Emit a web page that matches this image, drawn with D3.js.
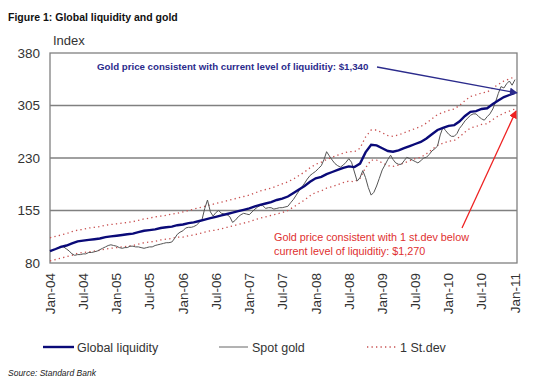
<!DOCTYPE html>
<html><head><meta charset="utf-8">
<script src="https://cdn.jsdelivr.net/npm/d3@7"></script>
<style>body{margin:0;background:#fff}svg{display:block}text{font-family:"Liberation Sans",Arial,sans-serif}</style>
</head><body><svg id="c" width="560" height="392"></svg>
<script>
// Monthly, Jan-04 .. Jan-11
const liquidity = [97,100,103,105,108,111,112,113,114,115,117,118,119,120,121,122,124,126,127,128,130,131,132,134,135,137,138,140,142,144,146,148,150,152,154,156,158,161,163,165,167,170,172,175,180,185,190,196,201,203,207,210,213,216,218,217,222,238,249,248,244,240,239,241,244,247,250,253,258,264,270,273,276,277,282,290,296,297,300,301,307,312,317,320,323];
const upperSd = [116,118,120,122,125,127,128,130,131,132,134,135,136,137,138,139,141,143,144,146,147,148,150,151,153,155,157,159,161,163,165,167,169,171,173,175,177,180,183,185,187,190,193,196,200,205,210,216,221,224,228,231,234,237,239,239,244,260,270,270,266,262,261,263,266,269,272,275,280,286,292,295,298,300,305,312,318,320,323,324,330,335,340,343,346];
const lowerSd = [83,85,87,89,91,94,95,96,97,98,100,101,102,103,104,105,107,109,110,111,113,114,115,117,117,119,120,122,124,126,127,129,131,133,135,137,139,142,144,146,148,150,152,155,160,165,170,176,181,183,187,189,192,195,197,196,201,216,227,227,223,219,218,220,223,226,229,231,236,242,248,251,254,255,260,267,273,275,278,279,285,290,294,297,300];
// Semi-monthly spot gold index, Jan-04 .. Jan-11
const spotGold = [97,98,100,102,104,103,100,97,93,91,92,92,93,93,95,95,96,97,99,101,103,105,106,105,104,102,101,102,102,104,104,103,103,102,101,102,103,103,105,106,107,108,109,109,110,115,121,124,126,130,131,131,132,134,138,142,158,170,153,147,152,155,151,150,149,146,138,141,146,149,151,150,149,153,157,160,162,162,158,159,159,157,158,159,159,160,161,166,171,177,183,188,194,200,205,208,211,215,219,228,239,233,227,222,219,217,220,224,229,224,210,197,202,212,202,188,177,181,190,201,213,220,228,234,228,223,221,221,226,231,229,227,225,223,226,230,231,235,240,243,247,263,274,269,264,261,261,265,272,277,283,287,291,293,293,289,286,284,289,293,300,310,322,332,330,336,340,334,342];
const yTicks = [80,155,230,305,380];
const xTickDates = d3.timeMonths(new Date(2004,0,1), new Date(2011,0,2), 6);

const svg = d3.select("#c");
const L=50,R=517,T=53,B=263;
const x = d3.scaleTime().domain([new Date(2004,0,1), new Date(2011,0,1)]).range([L,515]);
const y = d3.scaleLinear().domain([80,380]).range([B,T]);
const mDate = i => new Date(2004, i, 1);
const hDate = i => new Date(2004, Math.floor(i/2), i%2 ? 16 : 1);

svg.append("text").attr("x",8).attr("y",21).attr("font-size",10.5).attr("font-weight","bold").attr("fill","#111").text("Figure 1: Global liquidity and gold");
svg.append("text").attr("x",53).attr("y",45).attr("font-size",13).attr("fill","#333").text("Index");

// gridlines
svg.append("g").selectAll("line").data(yTicks.filter(v=>v>80&&v<380)).join("line")
  .attr("x1",L).attr("x2",R).attr("y1",d=>y(d)).attr("y2",d=>y(d)).attr("stroke","#808080").attr("stroke-width",1.5);
svg.append("rect").attr("x",L).attr("y",T).attr("width",R-L).attr("height",B-T).attr("fill","none").attr("stroke","#808080").attr("stroke-width",1.3);

// y labels
svg.append("g").selectAll("text").data(yTicks).join("text")
  .attr("x",40).attr("y",d=>y(d)).attr("dy","0.36em").attr("text-anchor","end").attr("font-size",13.5).attr("fill","#333").text(d=>d);
// x labels
const fmt = d3.timeFormat("%b-%y");
svg.append("g").selectAll("text").data(xTickDates).join("text")
  .attr("transform",d=>`translate(${x(d)},273) rotate(-90)`).attr("dy","0.36em").attr("text-anchor","end")
  .attr("font-size",13.5).attr("fill","#333").text(d=>fmt(d));

const line = d3.line().x(d=>x(d[0])).y(d=>y(d[1]));
const dotted = {stroke:"#c85050","stroke-width":1.3,"stroke-dasharray":"1.3,3.2"};
[upperSd,lowerSd].forEach(s=>{
  const p = svg.append("path").attr("d",line(s.map((v,i)=>[mDate(i),v]))).attr("fill","none");
  Object.entries(dotted).forEach(([k,v])=>p.attr(k,v));
});
svg.append("path").attr("d",line(spotGold.map((v,i)=>[hDate(i),v]))).attr("fill","none").attr("stroke","#555").attr("stroke-width",1);
svg.append("path").attr("d",line(liquidity.map((v,i)=>[mDate(i),v]))).attr("fill","none").attr("stroke","#0a0a78").attr("stroke-width",2.4);

// arrows
const defs = svg.append("defs");
function marker(id,c){defs.append("marker").attr("id",id).attr("viewBox","0 0 10 10").attr("refX",9).attr("refY",5)
  .attr("markerWidth",8).attr("markerHeight",8).attr("markerUnits","userSpaceOnUse").attr("orient","auto")
  .append("path").attr("d","M0,0L10,5L0,10z").attr("fill",c);}
marker("ab","#2b2b8c"); marker("ar","#ee2222");
svg.append("text").attr("x",97).attr("y",70).attr("font-size",9.7).attr("font-weight","bold").attr("fill","#2b2b8c")
  .text("Gold price consistent with current level of liquiditiy: $1,340");
svg.append("line").attr("x1",377).attr("y1",67).attr("x2",x(new Date(2011,0,1))+2).attr("y2",y(liquidity[liquidity.length-1]))
  .attr("stroke","#2b2b8c").attr("stroke-width",1.3).attr("marker-end","url(#ab)");
svg.append("text").attr("x",274).attr("y",241).attr("font-size",10.8).attr("fill","#e03030").text("Gold price consistent  with 1 st.dev below");
svg.append("text").attr("x",274).attr("y",255).attr("font-size",10.8).attr("fill","#e03030").text("current level of liquiditiy: $1,270");
svg.append("line").attr("x1",462).attr("y1",228).attr("x2",x(new Date(2011,0,1))+1).attr("y2",y(lowerSd[lowerSd.length-1])+2)
  .attr("stroke","#ee2222").attr("stroke-width",1.3).attr("marker-end","url(#ar)");

// legend
const lg = svg.append("g");
lg.append("line").attr("x1",43).attr("x2",74).attr("y1",347).attr("y2",347).attr("stroke","#0a0a78").attr("stroke-width",2.4);
lg.append("text").attr("x",77).attr("y",347).attr("dy","0.36em").attr("font-size",12.5).attr("fill","#333").text("Global liquidity");
lg.append("line").attr("x1",219).attr("x2",248).attr("y1",347).attr("y2",347).attr("stroke","#666").attr("stroke-width",1);
lg.append("text").attr("x",252).attr("y",347).attr("dy","0.36em").attr("font-size",12.5).attr("fill","#333").text("Spot gold");
const ld = lg.append("line").attr("x1",367).attr("x2",397).attr("y1",347).attr("y2",347);
Object.entries(dotted).forEach(([k,v])=>ld.attr(k,v));
lg.append("text").attr("x",400).attr("y",347).attr("dy","0.36em").attr("font-size",12.5).attr("fill","#333").text("1 St.dev");
svg.append("text").attr("x",8).attr("y",376).attr("font-size",8.5).attr("font-style","italic").attr("fill","#222").text("Source: Standard Bank");
</script></body></html>
